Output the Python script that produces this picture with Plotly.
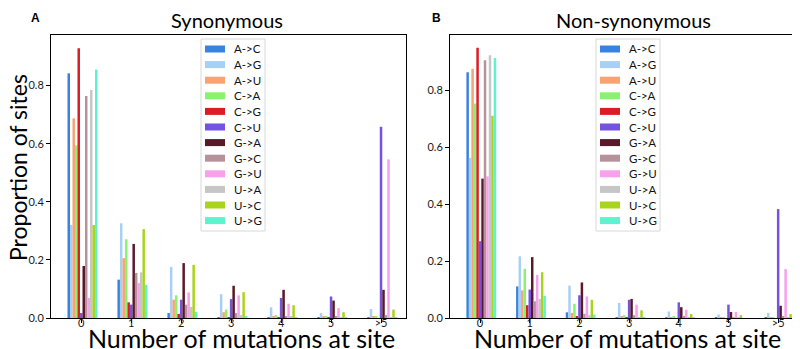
import plotly.graph_objects as go

categories = ["0", "1", "2", "3", "4", "5", ">5"]
mutations = ["A->C", "A->G", "A->U", "C->A", "C->G", "C->U",
             "G->A", "G->C", "G->U", "U->A", "U->C", "U->G"]
colors = ["#3a82e0", "#a8cff5", "#f9a272", "#88f36e", "#dc1c25", "#7353e0",
          "#5a1828", "#b6939c", "#f7a0ec", "#c6c6c6", "#a9d41c", "#5ff2cf"]

# Synonymous (panel A)
syn_AC = [0.842, 0.132, 0.017, 0.003, 0.002, 0.001, 0.002]
syn_AG = [0.320, 0.326, 0.176, 0.082, 0.037, 0.017, 0.031]
syn_AU = [0.687, 0.206, 0.063, 0.020, 0.005, 0.004, 0.004]
syn_CA = [0.594, 0.271, 0.078, 0.029, 0.010, 0.005, 0.005]
syn_CG = [0.928, 0.054, 0.014, 0.002, 0.001, 0.001, 0.000]
syn_CU = [0.017, 0.046, 0.063, 0.065, 0.069, 0.074, 0.658]
syn_GA = [0.179, 0.255, 0.189, 0.111, 0.097, 0.060, 0.097]
syn_GC = [0.764, 0.155, 0.046, 0.017, 0.005, 0.004, 0.010]
syn_GU = [0.069, 0.120, 0.088, 0.078, 0.049, 0.034, 0.546]
syn_UA = [0.785, 0.157, 0.038, 0.010, 0.005, 0.002, 0.003]
syn_UC = [0.320, 0.306, 0.183, 0.089, 0.044, 0.020, 0.029]
syn_UG = [0.855, 0.114, 0.021, 0.005, 0.002, 0.001, 0.002]

# Non-synonymous (panel B)
non_AC = [0.864, 0.111, 0.020, 0.002, 0.001, 0.001, 0.001]
non_AG = [0.563, 0.217, 0.114, 0.053, 0.023, 0.012, 0.018]
non_AU = [0.876, 0.097, 0.018, 0.005, 0.002, 0.001, 0.001]
non_CA = [0.754, 0.173, 0.050, 0.010, 0.005, 0.003, 0.003]
non_CG = [0.950, 0.045, 0.005, 0.001, 0.000, 0.000, 0.000]
non_CU = [0.270, 0.100, 0.080, 0.064, 0.055, 0.047, 0.383]
non_GA = [0.490, 0.214, 0.125, 0.067, 0.038, 0.021, 0.043]
non_GC = [0.906, 0.059, 0.015, 0.010, 0.004, 0.002, 0.004]
non_GU = [0.498, 0.151, 0.076, 0.047, 0.029, 0.021, 0.172]
non_UA = [0.924, 0.067, 0.010, 0.003, 0.001, 0.001, 0.001]
non_UC = [0.711, 0.161, 0.064, 0.027, 0.014, 0.010, 0.014]
non_UG = [0.914, 0.078, 0.012, 0.003, 0.001, 0.000, 0.001]

syn_series = [syn_AC, syn_AG, syn_AU, syn_CA, syn_CG, syn_CU,
              syn_GA, syn_GC, syn_GU, syn_UA, syn_UC, syn_UG]
non_series = [non_AC, non_AG, non_AU, non_CA, non_CG, non_CU,
              non_GA, non_GC, non_GU, non_UA, non_UC, non_UG]

W, H = 800, 349
BAR_W = 0.05
xpos = list(range(len(categories)))

fig = go.Figure()
for panel, series in (("", syn_series), ("2", non_series)):
    for i, (name, col, vals) in enumerate(zip(mutations, colors, series)):
        fig.add_trace(go.Bar(
            x=xpos, y=vals, name=name, xaxis="x" + panel, yaxis="y" + panel,
            width=BAR_W, offset=(i - 5) * BAR_W - BAR_W / 2,
            marker=dict(color=col, line=dict(width=0)),
            showlegend=False,
        ))


def px(x):
    return x / W


def py(y):
    return 1 - y / H


ydom = [py(310), py(27)]
tickfont = dict(family="Lato", size=11, color="#1a1a1a")
common_x = dict(tickvals=xpos, ticktext=categories, range=[-0.605, 6.5],
                showline=True, linecolor="black", linewidth=1, mirror=True,
                ticks="outside", ticklen=4, tickcolor="black", tickfont=tickfont,
                ticklabelstandoff=-9,
                showgrid=False, zeroline=False, fixedrange=True)
common_y = dict(tickvals=[0, 0.2, 0.4, 0.6, 0.8], tickformat=".1f",
                showline=True, linecolor="black", linewidth=1, mirror=True,
                ticks="outside", ticklen=4, tickcolor="black", tickfont=tickfont,
                showgrid=False, zeroline=False, fixedrange=True)

fig.update_layout(
    width=W, height=H, margin=dict(l=0, r=0, t=0, b=0),
    paper_bgcolor="white", plot_bgcolor="white", template="none",
    barmode="overlay", showlegend=False,
    xaxis=dict(domain=[px(43), px(398)], anchor="y", **common_x),
    yaxis=dict(domain=ydom, anchor="x", range=[0, 0.974], **common_y),
    xaxis2=dict(domain=[px(442), px(795)], anchor="y2", **common_x),
    yaxis2=dict(domain=ydom, anchor="x2", range=[0, 0.995], **common_y),
)

shapes = []
annotations = []

# Manual legends (one per panel), built from mutations/colors lists
for left in (193, 588):
    top, bottom = 31, 223
    shapes.append(dict(type="rect", xref="paper", yref="paper",
                       x0=px(left), x1=px(left + 64), y0=py(bottom), y1=py(top),
                       line=dict(color="#d8d8d8", width=1), fillcolor="rgba(255,255,255,0.85)",
                       layer="above"))
    for k, (name, col) in enumerate(zip(mutations, colors)):
        yc = 41 + k * 15.6
        shapes.append(dict(type="rect", xref="paper", yref="paper",
                           x0=px(left + 4), x1=px(left + 24), y0=py(yc + 3.5), y1=py(yc - 3.5),
                           line=dict(width=0), fillcolor=col, layer="above"))
        annotations.append(dict(text=name, xref="paper", yref="paper",
                                x=px(left + 31), y=py(yc), xanchor="left", yanchor="middle",
                                showarrow=False, font=dict(family="Lato", size=11.5, color="#111")))

# Titles and labels
annotations += [
    dict(text="Synonymous", x=px(219), y=py(12), xref="paper", yref="paper",
         showarrow=False, xanchor="center", yanchor="middle",
         font=dict(family="Lato", size=20, color="black")),
    dict(text="Non-synonymous", x=px(625), y=py(12), xref="paper", yref="paper",
         showarrow=False, xanchor="center", yanchor="middle",
         font=dict(family="Lato", size=20, color="black")),
    dict(text="<b>A</b>", x=px(27), y=py(10), xref="paper", yref="paper",
         showarrow=False, xanchor="center", yanchor="middle",
         font=dict(family="Liberation Sans", size=12, color="black")),
    dict(text="<b>B</b>", x=px(428), y=py(10), xref="paper", yref="paper",
         showarrow=False, xanchor="center", yanchor="middle",
         font=dict(family="Liberation Sans", size=12, color="black")),
    dict(text="Number of mutations at site", x=px(233), y=py(330), xref="paper", yref="paper",
         showarrow=False, xanchor="center", yanchor="middle",
         font=dict(family="Lato", size=25, color="black")),
    dict(text="Number of mutations at site", x=px(619), y=py(330), xref="paper", yref="paper",
         showarrow=False, xanchor="center", yanchor="middle",
         font=dict(family="Lato", size=25, color="black")),
    dict(text="Proportion of sites", x=px(10), y=py(160), xref="paper", yref="paper",
         showarrow=False, xanchor="center", yanchor="middle", textangle=-90,
         font=dict(family="Lato", size=23, color="black")),
]
fig.update_layout(shapes=shapes, annotations=annotations)

fig.write_html("out.html")
